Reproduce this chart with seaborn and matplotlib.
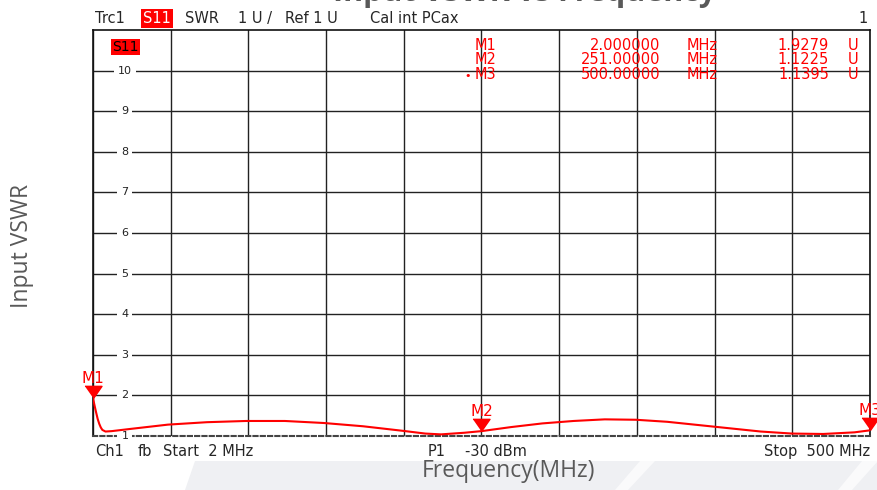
import numpy as np
import pandas as pd
import matplotlib
matplotlib.use('Agg')
import matplotlib.pyplot as plt
from matplotlib.patches import Polygon
import seaborn as sns

# trace (MHz, SWR)
freq_mhz = [2, 3, 4, 5, 6, 7, 8, 10, 14, 25, 50, 75, 100, 125, 150, 175, 200,
            215, 225, 240, 251, 270, 290, 310, 330, 350, 370, 390, 410, 430,
            450, 470, 490, 500]
vswr = [1.93, 1.75, 1.58, 1.42, 1.30, 1.21, 1.15, 1.11, 1.12, 1.17, 1.28, 1.34,
        1.37, 1.37, 1.32, 1.24, 1.13, 1.06, 1.04, 1.08, 1.12, 1.22, 1.31, 1.37,
        1.41, 1.40, 1.35, 1.27, 1.19, 1.11, 1.06, 1.05, 1.09, 1.14]

marker_names = ['M1', 'M2', 'M3']
marker_freq = [2, 251, 500]
marker_vswr = [1.9279, 1.1225, 1.1395]
marker_freq_text = ['2.000000', '251.00000', '500.00000']

y_ticks = [1, 2, 3, 4, 5, 6, 7, 8, 9, 10]
y_tick_labels = ['1', '2', '3', '4', '5', '6', '7', '8', '9', '10']

W, H = 878, 490
RED = '#ff0000'
GRAY = '#595959'

sns.set_style('white')
plt.rcParams['font.family'] = ['DejaVu Sans']

def fx(x):
    return x / W

def fy(y):
    return 1 - y / H

fig = plt.figure(figsize=(W / 100, H / 100), dpi=100)

# light background band at the bottom of the slide
fig.patches.append(Polygon([(fx(185), fy(490)), (fx(195), fy(461)), (fx(878), fy(461)), (fx(878), fy(490))],
                           closed=True, transform=fig.transFigure, facecolor='#eff0f3', edgecolor='none', zorder=0))
fig.patches.append(Polygon([(fx(615), fy(490)), (fx(640), fy(461)), (fx(655), fy(461)), (fx(628), fy(490))],
                           closed=True, transform=fig.transFigure, facecolor='#fafafb', edgecolor='none', zorder=0))
fig.patches.append(Polygon([(fx(838), fy(490)), (fx(862), fy(461)), (fx(878), fy(461)), (fx(852), fy(490))],
                           closed=True, transform=fig.transFigure, facecolor='#fafafb', edgecolor='none', zorder=0))

ax = fig.add_axes([fx(93), fy(436), 777 / W, 406 / H])
ax.set_facecolor('white')

df = pd.DataFrame({'freq': freq_mhz, 'vswr': vswr})
sns.lineplot(data=df, x='freq', y='vswr', color=RED, linewidth=1.5, ax=ax, zorder=4)

ax.set_xlim(2, 500)
ax.set_ylim(1, 11)
ax.set_xticks(np.linspace(2, 500, 11))
ax.set_yticks(y_ticks[1:])
ax.grid(True, color='#222222', linewidth=1.0)
ax.tick_params(length=0, labelleft=False, labelbottom=False)
ax.set_xlabel('')
ax.set_ylabel('')
for s in ['top', 'left', 'right']:
    ax.spines[s].set_color('#111111')
    ax.spines[s].set_linewidth(1.2)
ax.spines['bottom'].set_color('#444444')
ax.spines['bottom'].set_linewidth(1.5)
ax.spines['bottom'].set_linestyle((0, (2, 1.5)))

for yv, lab in zip(y_ticks, y_tick_labels):
    ax.text(0.041, yv, lab, transform=ax.get_yaxis_transform(), ha='center', va='center',
            fontsize=8, color='#222222', zorder=3,
            bbox=dict(boxstyle='square,pad=0.35', facecolor='white', edgecolor='none'))

# markers: downward triangles with the tip on the trace
tri = [(-0.7, 1.0), (0.7, 1.0), (0.0, 0.0)]
ax.plot(marker_freq, marker_vswr, linestyle='none', marker=tri, markersize=17.5,
        color=RED, clip_on=False, zorder=5)
for name, f, v in zip(marker_names, marker_freq, marker_vswr):
    ax.annotate(name, (f, v), xytext=(0, 9), textcoords='offset points', ha='center',
                va='bottom', fontsize=11, color=RED, annotation_clip=False, zorder=5)

# header line
hdr_y = fy(23)
fig.text(fx(95), hdr_y, 'Trc1', fontsize=10.5, va='baseline')
fig.text(fx(143), hdr_y, 'S11', fontsize=10.5, va='baseline', color='white',
         bbox=dict(boxstyle='square,pad=0.15', facecolor=RED, edgecolor='none'))
fig.text(fx(185), hdr_y, 'SWR', fontsize=10.5, va='baseline')
fig.text(fx(238), hdr_y, '1 U /', fontsize=10.5, va='baseline')
fig.text(fx(285), hdr_y, 'Ref 1 U', fontsize=10.5, va='baseline')
fig.text(fx(370), hdr_y, 'Cal int PCax', fontsize=10.5, va='baseline')
fig.text(fx(868), hdr_y, '1', fontsize=10.5, va='baseline', ha='right')

fig.text(fx(112), fy(51), 'S11', fontsize=10, va='baseline', color='black', zorder=6,
         bbox=dict(boxstyle='square,pad=0.1', facecolor=RED, edgecolor='none'))

# marker table
row_y = [50, 64, 79]
for i, name in enumerate(marker_names):
    y = fy(row_y[i])
    fig.text(fx(475), y, name, fontsize=10.5, color=RED, va='baseline')
    fig.text(fx(660), y, marker_freq_text[i], fontsize=10.5, color=RED, va='baseline', ha='right')
    fig.text(fx(687), y, 'MHz', fontsize=10.5, color=RED, va='baseline')
    fig.text(fx(829), y, f'{marker_vswr[i]:.4f}', fontsize=10.5, color=RED, va='baseline', ha='right')
    fig.text(fx(848), y, 'U', fontsize=10.5, color=RED, va='baseline')
fig.text(fx(464), fy(row_y[2]), '•', fontsize=8, color=RED, va='baseline')

# footer line
ft_y = fy(456)
fig.text(fx(95), ft_y, 'Ch1', fontsize=10.5, va='baseline')
fig.text(fx(138), ft_y, 'fb', fontsize=10.5, va='baseline')
fig.text(fx(163), ft_y, 'Start  2 MHz', fontsize=10.5, va='baseline')
fig.text(fx(428), ft_y, 'P1', fontsize=10.5, va='baseline')
fig.text(fx(465), ft_y, '-30 dBm', fontsize=10.5, va='baseline')
fig.text(fx(870), ft_y, 'Stop  500 MHz', fontsize=10.5, va='baseline', ha='right')

# slide texts (title is cut off at the top edge in the original screenshot)
fig.text(fx(509), fy(471), 'Frequency(MHz)', fontsize=16.5, color=GRAY, family='Open Sans',
         ha='center', va='center')
fig.text(fx(22), fy(246), 'Input VSWR', fontsize=16.5, color=GRAY, family='Open Sans',
         ha='center', va='center', rotation=90)
fig.text(fx(525), fy(1.5), 'Input VSWR vs Frequency', fontsize=22, color=GRAY, family='Open Sans',
         weight='bold', ha='center', va='baseline')

fig.savefig('out.png', dpi=100)
